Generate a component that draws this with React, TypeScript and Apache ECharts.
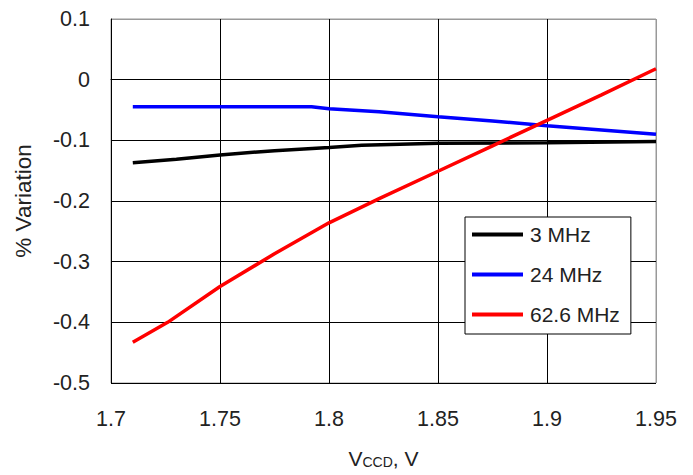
import React, { useEffect, useRef } from "react";
import * as echarts from "echarts";

const xTicks = [1.7, 1.75, 1.8, 1.85, 1.9, 1.95];
const yTicks = [-0.5, -0.4, -0.3, -0.2, -0.1, 0, 0.1];

const seriesNames = ["3 MHz", "24 MHz", "62.6 MHz"];
const seriesColors = ["#000000", "#0000ff", "#ff0000"];

const black3MHz: [number, number][] = [
  [1.71, -0.137], [1.73, -0.131], [1.75, -0.124], [1.775, -0.117], [1.8, -0.112],
  [1.815, -0.108], [1.85, -0.105], [1.9, -0.104], [1.95, -0.102],
];
const blue24MHz: [number, number][] = [
  [1.71, -0.0445], [1.75, -0.0445], [1.792, -0.0445], [1.8, -0.048], [1.823, -0.053],
  [1.85, -0.061], [1.875, -0.068], [1.9, -0.076], [1.925, -0.083], [1.95, -0.09],
];
const red626MHz: [number, number][] = [
  [1.71, -0.433], [1.726, -0.4], [1.75, -0.341], [1.775, -0.287], [1.8, -0.236],
  [1.823, -0.196], [1.85, -0.151], [1.875, -0.109], [1.9, -0.067], [1.925, -0.025], [1.95, 0.018],
];

const allData = [black3MHz, blue24MHz, red626MHz];

export default function App() {
  const ref = useRef<HTMLDivElement>(null);
  useEffect(() => {
    if (!ref.current) return;
    const chart = echarts.init(ref.current, null, { renderer: "svg" });
    const font = "'Liberation Sans', Arial, sans-serif";
    chart.setOption({
      animation: false,
      backgroundColor: "#ffffff",
      grid: {
        left: 111, right: 37, top: 19, bottom: 92,
        show: true, borderColor: "#999999", borderWidth: 1,
      },
      legend: {
        data: seriesNames,
        orient: "vertical",
        left: 465,
        top: 217,
        backgroundColor: "#ffffff",
        borderColor: "#000000",
        borderWidth: 1,
        padding: [7, 11, 9, 7],
        itemWidth: 51,
        itemHeight: 4,
        itemGap: 19,
        icon: "rect",
        textStyle: { fontFamily: font, fontSize: 21, color: "#222", lineHeight: 21, padding: [0, 0, 0, 2] },
      },
      xAxis: {
        type: "value",
        min: 1.7, max: 1.95, interval: 0.05,
        axisLine: { show: true, lineStyle: { color: "#000", width: 1 } },
        axisTick: { show: false },
        splitLine: { show: true, lineStyle: { color: ["#000", "#000", "#000", "#000", "#000", "#999"], width: 1 } },
        axisLabel: {
          fontFamily: font, fontSize: 21.5, color: "#222", margin: 25,
          formatter: (v: number) => {
            const t = xTicks.find((x) => Math.abs(x - v) < 1e-6);
            return t !== undefined ? String(t) : "";
          },
        },
        name: "{a|V}{b|CCD}{a|, V}",
        nameLocation: "middle",
        nameGap: 64,
        nameTextStyle: {
          rich: {
            a: { fontFamily: font, fontSize: 21, color: "#222" },
            b: { fontFamily: font, fontSize: 14, color: "#222", verticalAlign: "bottom", padding: [8, 0, 0, 0] },
          },
        },
      },
      yAxis: {
        type: "value",
        min: -0.5, max: 0.1, interval: 0.1,
        axisLine: { show: true, lineStyle: { color: "#000", width: 1 } },
        axisTick: { show: false },
        splitLine: { show: true, lineStyle: { color: ["#000", "#000", "#000", "#000", "#000", "#000", "#999"], width: 1 } },
        axisLabel: {
          fontFamily: font, fontSize: 21.5, color: "#222", margin: 21,
          formatter: (v: number) => {
            const t = yTicks.find((y) => Math.abs(y - v) < 1e-6);
            return t !== undefined ? String(t) : "";
          },
        },
        name: "% Variation",
        nameLocation: "middle",
        nameGap: 76,
        nameTextStyle: { fontFamily: font, fontSize: 22.5, color: "#222" },
      },
      series: seriesNames.map((n, i) => ({
        name: n,
        type: "line",
        data: allData[i],
        symbol: "none",
        smooth: false,
        color: seriesColors[i],
        lineStyle: { color: seriesColors[i], width: 3.5 },
        itemStyle: { color: seriesColors[i] },
        z: i === 2 ? 4 : 3,
      })),
    });
    return () => chart.dispose();
  }, []);
  return (
    <div
      ref={ref}
      style={{ position: "absolute", left: 0, top: 0, width: 693, height: 475 }}
    />
  );
}
